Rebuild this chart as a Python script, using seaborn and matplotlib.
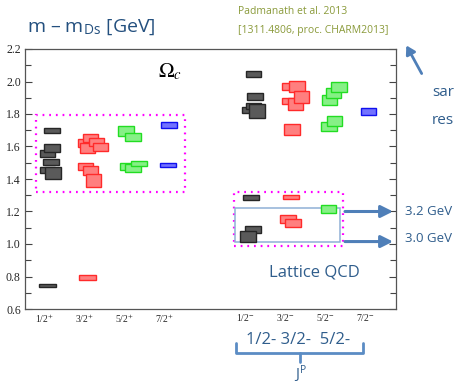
import matplotlib
matplotlib.use("Agg")
import matplotlib.pyplot as plt
from matplotlib.patches import Rectangle
from matplotlib.ticker import MultipleLocator
import seaborn as sns
import pandas as pd

# J^P channels and their column positions
jp_labels = ["1/2$^{+}$", "3/2$^{+}$", "5/2$^{+}$", "7/2$^{+}$",
             "1/2$^{-}$", "3/2$^{-}$", "5/2$^{-}$", "7/2$^{-}$"]
jp_positions = [1, 2, 3, 4, 6, 7, 8, 9]

# Omega_c levels: column offset, mass (m - m_Ds, GeV), uncertainty band height, box width
black_x = [1.175, 1.06, 1.175, 1.15, 1.06, 1.2, 1.06,
           6.21, 6.25, 6.11, 6.21, 6.3, 6.15, 6.2, 6.08]
black_m = [1.697, 1.557, 1.589, 1.505, 1.456, 1.437, 0.745,
           2.046, 1.907, 1.826, 1.848, 1.817, 1.286, 1.088, 1.048]
black_h = [0.03, 0.04, 0.05, 0.04, 0.035, 0.07, 0.02,
           0.035, 0.04, 0.04, 0.035, 0.085, 0.025, 0.04, 0.07]
black_w = [0.4, 0.375, 0.4, 0.4, 0.375, 0.4, 0.42,
           0.38, 0.4, 0.38, 0.38, 0.4, 0.4, 0.4, 0.4]

red_x = [2.0, 2.14, 2.06, 2.29, 2.39, 2.01, 2.14, 2.21, 2.06,
         7.125, 7.3, 7.12, 7.26, 7.41, 7.18, 7.15, 7.08, 7.2]
red_m = [1.619, 1.650, 1.589, 1.626, 1.598, 1.477, 1.450, 1.391, 0.795,
         1.968, 1.971, 1.879, 1.860, 1.904, 1.703, 1.292, 1.153, 1.131]
red_h = [0.05, 0.05, 0.06, 0.05, 0.05, 0.045, 0.055, 0.085, 0.03,
         0.04, 0.07, 0.035, 0.075, 0.075, 0.065, 0.025, 0.045, 0.05]
red_w = [0.36, 0.38, 0.38, 0.38, 0.38, 0.38, 0.38, 0.38, 0.42,
         0.4, 0.4, 0.4, 0.38, 0.38, 0.4, 0.4, 0.4, 0.4]

green_x = [3.03, 3.2, 3.07, 3.2, 3.35,
           8.11, 8.21, 8.35, 8.11, 8.24, 8.09]
green_m = [1.694, 1.657, 1.477, 1.468, 1.496,
           1.885, 1.928, 1.965, 1.721, 1.755, 1.215]
green_h = [0.06, 0.05, 0.045, 0.045, 0.035,
           0.06, 0.06, 0.06, 0.055, 0.06, 0.045]
green_w = [0.4, 0.4, 0.4, 0.4, 0.4,
           0.38, 0.38, 0.4, 0.4, 0.38, 0.38]

blue_x = [4.1, 4.08, 9.09]
blue_m = [1.731, 1.486, 1.814]
blue_h = [0.035, 0.03, 0.04]
blue_w = [0.4, 0.4, 0.38]

sns.set_theme(style="ticks")
plt.rcParams["mathtext.fontset"] = "stix"

W, H = 454, 385
fig = plt.figure(figsize=(W / 100, H / 100), dpi=100)
ax = fig.add_axes([25 / W, 1 - 309 / H, (396 - 25) / W, (309 - 49) / H])

styles = {
    "black": dict(fc="#5a5a5a", ec="#262626"),
    "red": dict(fc="#ff7f7f", ec="#ff2a2a"),
    "green": dict(fc="#86f086", ec="#22dd22"),
    "blue": dict(fc="#7272ff", ec="#1010ee"),
}
groups = [
    ("black", black_x, black_m, black_h, black_w),
    ("red", red_x, red_m, red_h, red_w),
    ("green", green_x, green_m, green_h, green_w),
    ("blue", blue_x, blue_m, blue_h, blue_w),
]
frames = []
for name, xs, ms, hs, ws in groups:
    frames.append(pd.DataFrame({"x": xs, "m": ms, "h": hs, "w": ws, "group": name}))
levels = pd.concat(frames, ignore_index=True)

for name, sub in levels.groupby("group", sort=False):
    st = styles[name]
    ax.bar(sub["x"], sub["h"], bottom=sub["m"] - sub["h"] / 2, width=sub["w"],
           color=st["fc"], edgecolor=st["ec"], linewidth=1.0, zorder=3)

ax.set_xlim(0.5, 9.775)
ax.set_ylim(0.6, 2.2)
ax.yaxis.set_major_locator(MultipleLocator(0.2))
ax.yaxis.set_minor_locator(MultipleLocator(0.1))
ax.set_xticks(jp_positions)
ax.set_xticklabels(jp_labels, family="Liberation Serif", fontsize=7)
ax.set_yticklabels([f"{v:.1f}" for v in ax.get_yticks()], family="Liberation Serif", fontsize=8.5)
ax.tick_params(axis="y", which="both", direction="in", left=True, right=True,
               color="#444444", width=0.8, pad=3)
ax.tick_params(axis="y", which="major", length=5)
ax.tick_params(axis="y", which="minor", length=4)
ax.tick_params(axis="x", length=0, pad=2.5)
for sp in ax.spines.values():
    sp.set_visible(True)
    sp.set_color("#555555")
    sp.set_linewidth(0.9)

# operator-basis regions
dot = dict(fill=False, ec="#ff00ff", lw=1.6, ls=(0, (0.8, 2.2)), zorder=2)
ax.add_patch(Rectangle((0.775, 1.317), 4.5 - 0.775, 1.792 - 1.317, **dot))
ax.add_patch(Rectangle((5.725, 0.989), 8.45 - 5.725, 1.317 - 0.989, **dot))
ax.add_patch(Rectangle((5.75, 1.01), 8.375 - 5.75, 1.222 - 1.01,
                       fill=False, ec="#8fb0d6", lw=1.1, zorder=2))

arrow_col = "#4f7fb8"
for yv in (1.2, 1.015):
    ax.annotate("", xy=(9.77, yv), xytext=(8.43, yv), xycoords="data",
                arrowprops=dict(arrowstyle="-|>,head_length=0.6,head_width=0.3",
                                color=arrow_col, lw=2.2), annotation_clip=False)

ax.text(4.12, 2.06, r"$\Omega_c$", fontsize=15, ha="center", va="center", color="black")
ax.text(7.74, 0.822, "Lattice QCD", fontsize=12, family="Open Sans",
        color="#2f5d8c", ha="center", va="center")

def ftext(px, py, s, **kw):
    fig.text(px / W, 1 - py / H, s, **kw)

ftext(27, 27, "m – m$_\\mathregular{Ds}$ [GeV]", fontsize=14, family="Open Sans",
      color="#24507f", ha="left", va="center")
ftext(238, 11, "Padmanath et al. 2013", fontsize=7.5, family="Open Sans",
      color="#8a9a3a", ha="left", va="center")
ftext(238, 31, "[1311.4806, proc. CHARM2013]", fontsize=7.5, family="Open Sans",
      color="#8a9a3a", ha="left", va="center")
ftext(432, 92, "sar", fontsize=11, family="Open Sans", color="#2f5d8c", ha="left", va="center")
ftext(432, 121, "res", fontsize=11, family="Open Sans", color="#2f5d8c", ha="left", va="center")
ftext(405, 212, "3.2 GeV", fontsize=9.5, family="Open Sans", color="#2f5d8c", ha="left", va="center")
ftext(405, 238, "3.0 GeV", fontsize=9.5, family="Open Sans", color="#2f5d8c", ha="left", va="center")
ftext(298, 340, "1/2- 3/2-  5/2-", fontsize=12, family="Open Sans", color="#2f5d8c",
      ha="center", va="center")
ftext(300, 374, "J$^\\mathregular{P}$", fontsize=10.5, family="Open Sans", color="#2f5d8c",
      ha="center", va="center")

# top-right pointer arrow
fig.patches.append(matplotlib.patches.FancyArrowPatch(
    (423 / W, 1 - 76 / H), (405 / W, 1 - 43 / H), transform=fig.transFigure,
    arrowstyle="-|>,head_length=5,head_width=3", color=arrow_col, lw=2.0))

# curly bracket under the negative-parity labels
bx = [236 / W, 236 / W, 363 / W, 363 / W]
by = [1 - 343 / H, 1 - 353 / H, 1 - 353 / H, 1 - 343 / H]
fig.add_artist(matplotlib.lines.Line2D(bx, by, color="#5b8cc4", lw=2.0,
                                       solid_joinstyle="round"))
fig.add_artist(matplotlib.lines.Line2D([300 / W, 300 / W], [1 - 353 / H, 1 - 362 / H],
                                       color="#5b8cc4", lw=2.0))

fig.savefig("out.png", dpi=100)
